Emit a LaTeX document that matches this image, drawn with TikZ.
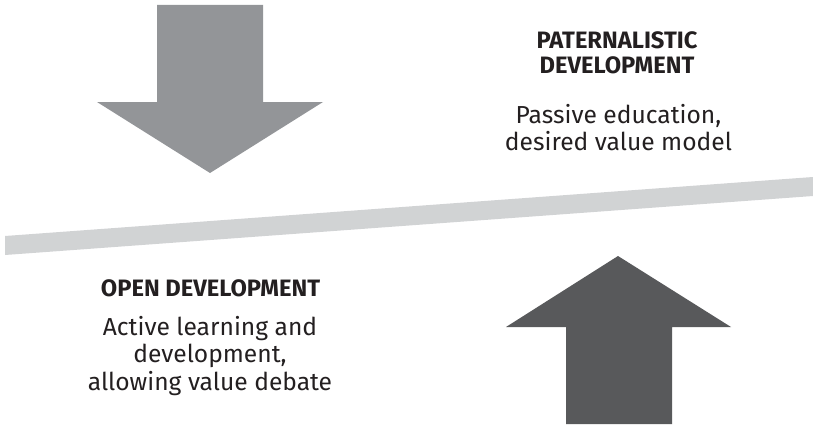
\documentclass[tikz,border=0pt]{standalone}
\usepackage{fontspec}
\setmainfont{Fira Sans}
\usetikzlibrary{positioning}
\definecolor{lightarrow}{RGB}{147,149,152}
\definecolor{darkarrow}{RGB}{88,89,91}
\definecolor{beam}{RGB}{209,211,212}
\definecolor{ink}{RGB}{35,31,32}
\tikzstyle{heading} = [align=center,text=ink,font=\fontsize{13.5}{14.5}\selectfont\bfseries,inner sep=0pt]
\tikzstyle{caption} = [align=center,text=ink,font=\fontsize{14}{15.4}\selectfont,inner sep=0pt]

\begin{document}
\begin{tikzpicture}
\useasboundingbox (0,0) rectangle (16.26,8.48);

% tilted beam
\fill[beam] (0.1,3.76) -- (0.1,3.38) -- (16.26,4.56) -- (16.26,4.94) -- cycle;

% arrow pressing down
\fill[lightarrow] (3.14,8.38) -- (5.26,8.38) -- (5.26,6.44) -- (6.46,6.44) -- (4.2,5.02) -- (1.94,6.44) -- (3.14,6.44) -- cycle;

% arrow pushing up
\fill[darkarrow] (11.32,0) -- (13.44,0) -- (13.44,1.94) -- (14.62,1.94) -- (12.36,3.36) -- (10.12,1.94) -- (11.32,1.94) -- cycle;

\node[heading] (paternal) at (12.34,7.42) {PATERNALISTIC\\DEVELOPMENT};
\node[caption] (passive) at (12.37,5.93) {Passive education,\\desired value model};

\node[heading] (open) at (4.21,2.72) {OPEN DEVELOPMENT};
\node[caption] (active) at (4.2,1.36) {Active learning and\\development,\\allowing value debate};
\end{tikzpicture}
\end{document}
